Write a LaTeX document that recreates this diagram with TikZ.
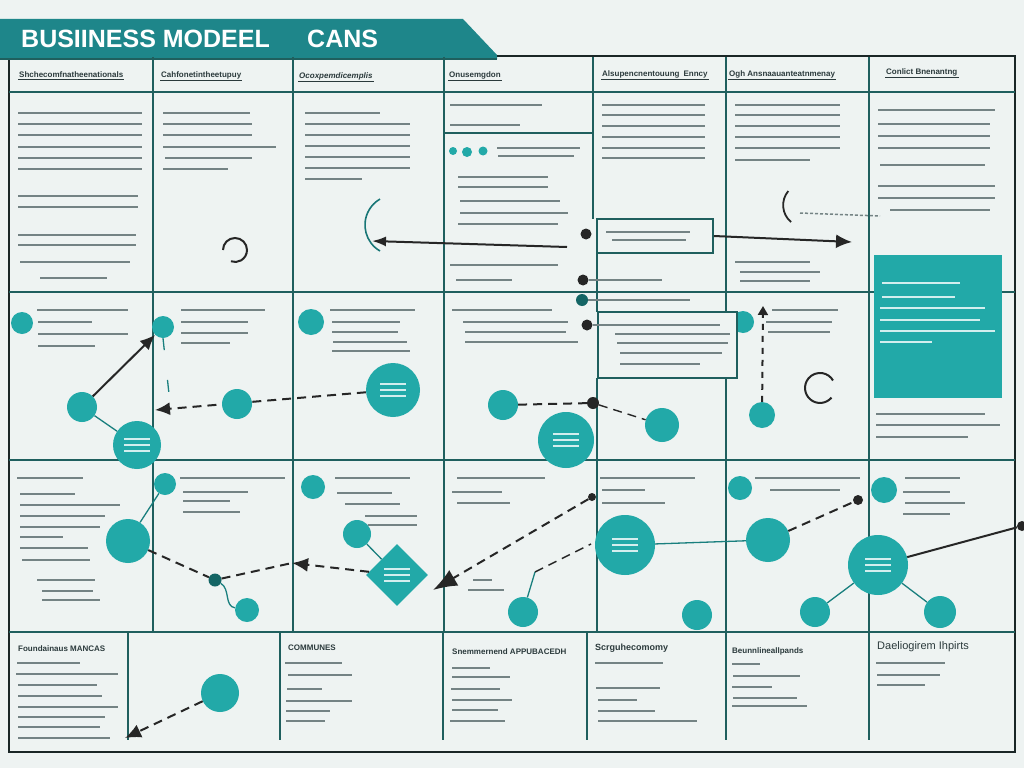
\documentclass[tikz,border=0pt]{standalone}
\usepackage{fontspec}
\setmainfont{Liberation Sans}
\usetikzlibrary{arrows.meta,shapes.geometric}

\definecolor{bgc}{HTML}{EEF3F2}
\definecolor{tealc}{HTML}{22A9A8}
\definecolor{banc}{HTML}{1E868A}
\definecolor{gridc}{HTML}{1F5F5E}
\definecolor{framec}{HTML}{1A2626}
\definecolor{barc}{HTML}{748384}
\definecolor{inkc}{HTML}{2B3A3C}

\tikzset{
  grid/.style={draw=gridc, line width=2pt},
  bar/.style={draw=barc, line width=2.9pt},
  wbar/.style={draw=white!80!tealc, line width=1.6pt},
  hdr/.style={font=\bfseries\fontsize{8}{9}\selectfont, text=inkc, inner sep=1pt, anchor=west},
  bub/.style={circle, fill=tealc, minimum size=#1, inner sep=0},
  blob/.style={circle, fill=black!85, minimum size=#1, inner sep=0},
  cell/.style={draw=gridc, line width=1.6pt, fill=bgc, inner sep=0},
  gem/.style={diamond, fill=tealc, minimum size=62, inner sep=0},
  link/.style={draw=black!85, line width=2pt},
  dlink/.style={link, dash pattern=on 9pt off 6pt},
  tline/.style={draw=tealc!75!black, line width=1.3pt},
}

% filler text lines: x from, x to, list of y
\newcommand\bars[3]{\foreach \yy in {#3} {\draw[bar] (#1,\yy) -- (#2,\yy);}}
\newcommand\wbars[3]{\foreach \yy in {#3} {\draw[wbar] (#1,\yy) -- (#2,\yy);}}

\begin{document}
\begin{tikzpicture}[x=1pt,y=-1pt]
\fill[bgc] (0,0) rectangle (1024,768);
\useasboundingbox (0,0) rectangle (1024,768);

% title banner
\fill[banc] (0,19) -- (463,19) -- (497,55) -- (497,59) -- (0,59) -- cycle;
\node[font=\bfseries\fontsize{25}{25}\selectfont, text=white, anchor=west, inner sep=0] (title) at (21,39) {BUSIINESS MODEEL};
\node[font=\bfseries\fontsize{25}{25}\selectfont, text=white, anchor=west, inner sep=0] (title2) at (307,39) {CANS};

% frame and grid
\draw[framec, line width=2.4pt] (497,56) -- (1015,56) -- (1015,752) -- (9,752) -- (9,59);
\draw[grid] (0,59) -- (497,59);
\foreach \y in {92,292,460,632} {
    \draw[grid] (9,\y) -- (1015,\y);
}
\foreach \x in {153,293,444,726,869} {
    \draw[grid] (\x,57) -- (\x,632);
}
\draw[grid] (593,57) -- (593,219);
\draw[grid] (597,253) -- (597,312);
\draw[grid] (597,378) -- (597,632);
\draw[grid] (444,133) -- (593,133);
\foreach \x in {128,280,443,587,726,869} {
    \draw[grid] (\x,632) -- (\x,740);
}

% headers
\node[hdr] (h1) at (18,75) {Shchecomfnatheenationals};
\node[hdr] (h2) at (160,75) {Cahfonetintheetupuy};
\node[hdr, font=\bfseries\itshape\fontsize{8}{9}\selectfont] (h3) at (298,76) {Ocoxpemdicemplis};
\node[hdr] (h4) at (448,75) {Onusemgdon};
\node[hdr] (h5) at (601,74) {Alsupencnentouung\enspace Enncy};
\node[hdr] (h6) at (728,74) {Ogh Ansnaauanteatnmenay};
\node[hdr] (h7) at (885,72) {Conlict Bnenantng};
\foreach \h in {h1,h2,h3,h4,h5,h6,h7} {
    \draw[inkc, line width=0.8pt] (\h.south west) -- (\h.south east);
}

% row 1 text
\bars{18}{142}{113,124,135,147,158,169}
\bars{18}{138}{196,207}
\bars{18}{136}{235,245}
\bars{20}{130}{262}
\bars{40}{107}{278}
\bars{163}{250}{113}
\bars{163}{252}{124,135}
\bars{163}{276}{147}
\bars{165}{252}{158}
\bars{163}{228}{169}
\bars{305}{380}{113}
\bars{305}{410}{124,135,146,157,168}
\bars{305}{362}{179}
\bars{450}{542}{105}
\bars{450}{520}{125}
\bars{497}{580}{148}
\bars{498}{574}{156}
\bars{458}{548}{177,187}
\bars{460}{560}{201}
\bars{460}{568}{213}
\bars{458}{558}{224}
\bars{450}{558}{265}
\bars{456}{512}{280}
\bars{602}{705}{105,115,126,137,148,158}
\bars{735}{840}{105,115,126,137,148}
\bars{735}{810}{160}
\bars{735}{810}{262}
\bars{740}{820}{272}
\bars{740}{810}{281}
\bars{878}{995}{110}
\bars{878}{990}{124,136,148}
\bars{880}{985}{165}
\bars{878}{995}{186,198}
\bars{890}{990}{210}

% row 1 marks
\fill[tealc] (453,151) circle (4);
\fill[tealc] (467,152) circle (5);
\fill[tealc] (483,151) circle (4.5);
\draw[black!85, line width=2pt] (223,250) arc[start angle=180, end angle=470, radius=12];
\draw[tealc!70!black, line width=1.6pt] (380,251) arc[start angle=120, end angle=240, radius=30];
\draw[black!85, line width=1.8pt] (791,222) arc[start angle=130, end angle=220, radius=22];
\draw[barc, line width=1.5pt, dash pattern=on 3pt off 2pt] (800,213) -- (880,216);
\coordinate (p1) at (567,247);
\coordinate (p2) at (372,241);
\draw[link, -{Latex[length=14pt,width=10pt]}] (p1) -- (p2);

\node[cell, minimum width=116, minimum height=34] (vp) at (655,236) {};
\bars{606}{690}{232}
\bars{612}{686}{240}
\coordinate (p3) at (852,242);
\draw[link, -{Latex[length=16pt,width=14pt]}] (vp.east) -- (p3);

\node[blob=11] (k1) at (586,234) {};
\node[blob=11] (k2) at (583,280) {};
\node[bub=12, fill=tealc!60!black] (k3) at (582,300) {};
\node[blob=11] (k4) at (587,325) {};
\draw[bar] (k2) -- (662,280);
\draw[bar] (k3) -- (690,300);

% teal segment box
\node[fill=tealc, minimum width=128, minimum height=143, inner sep=0] (seg) at (938,326.5) {};
\wbars{882}{960}{283}
\wbars{882}{955}{297}
\wbars{880}{985}{308}
\wbars{880}{980}{320}
\wbars{880}{995}{331}
\wbars{880}{932}{342}
\bars{876}{985}{414}
\bars{876}{1000}{425}
\bars{876}{968}{437}

% row 2
\node[bub=22] (hc) at (743,322) {};
\node[cell, minimum width=139, minimum height=66] (rel) at (667.5,345) {};
\draw[bar] (k4) -- (720,325);
\bars{615}{730}{334}
\bars{617}{728}{343}
\bars{620}{722}{353}
\bars{620}{700}{364}

\node[bub=22] (bA) at (22,323) {};
\node[bub=22] (bB) at (163,327) {};
\node[bub=26] (bC) at (311,322) {};
\bars{37}{128}{310}
\bars{38}{92}{322}
\bars{38}{128}{334}
\bars{38}{95}{346}
\bars{181}{265}{310}
\bars{181}{248}{322,333}
\bars{181}{230}{343}
\bars{330}{415}{310}
\bars{332}{400}{322}
\bars{332}{398}{332}
\bars{333}{407}{342}
\bars{332}{410}{351}
\bars{452}{552}{310}
\bars{463}{568}{322}
\bars{465}{566}{332}
\bars{465}{578}{342}
\bars{772}{838}{310}
\bars{766}{832}{322}
\bars{768}{830}{332}

\node[bub=30] (a1) at (82,407) {};
\node[bub=48] (a2) at (137,445) {};
\node[bub=54] (c1) at (393,390) {};
\coordinate (q0) at (155,410);
\draw[dlink, -{Latex[length=15pt,width=13pt]}] (c1) -- (q0);
\node[bub=30] (b1) at (237,404) {};
\draw[link, -{Latex[length=15pt,width=13pt]}] (a1) -- (bB);
\draw[tline] (a1) -- (a2);
\draw[tline, dash pattern=on 12pt off 30pt] (bB.south) -- ++(7,65);

\node[bub=30] (d1) at (503,405) {};
\node[bub=56] (d2) at (566,440) {};
\node[blob=12] (g1) at (593,403) {};
\node[bub=34] (e1) at (662,425) {};
\draw[dlink] (d1) -- (g1);
\draw[dlink, line width=1.4pt] (g1) -- (e1);

\node[bub=26] (f1) at (762,415) {};
\coordinate (t1) at (763,306);
\draw[link, dash pattern=on 6pt off 6pt, -{Triangle[length=9pt,width=10pt]}] (f1) -- (t1);
\draw[black!85, line width=2pt] (831.5,397.6) arc[start angle=40, end angle=330, radius=15];

% row 3
\bars{17}{83}{478}
\bars{20}{75}{494}
\bars{20}{120}{505}
\bars{20}{105}{516}
\bars{20}{100}{527}
\bars{20}{63}{537}
\bars{20}{88}{548}
\bars{22}{90}{560}
\bars{37}{95}{580}
\bars{42}{93}{591}
\bars{42}{100}{600}
\bars{180}{285}{478}
\bars{183}{248}{492}
\bars{183}{230}{501}
\bars{183}{240}{512}
\bars{335}{410}{478}
\bars{337}{392}{493}
\bars{345}{400}{504}
\bars{365}{417}{516}
\bars{368}{417}{525}
\bars{457}{545}{478}
\bars{452}{502}{492}
\bars{457}{510}{503}
\bars{473}{492}{580}
\bars{468}{504}{590}
\bars{600}{695}{478}
\bars{602}{645}{490}
\bars{602}{665}{503}
\bars{755}{860}{478}
\bars{770}{840}{490}
\bars{905}{960}{478}
\bars{903}{950}{492}
\bars{905}{965}{503}
\bars{903}{950}{514}

\node[bub=22] (r1) at (165,484) {};
\node[bub=44] (r2) at (128,541) {};
\node[bub=13, fill=tealc!60!black] (s1) at (215,580) {};
\node[bub=24] (s2) at (247,610) {};
\node[bub=24] (rC) at (313,487) {};
\node[bub=28] (c3) at (357,534) {};
\node[gem] (dm) at (397,575) {};
\coordinate (q1) at (292,563);
\draw[tline] (r1) -- (r2);
\draw[dlink] (r2) -- (s1);
\draw[dlink] (s1) -- (q1);
\draw[tline] (s1) to[out=-30,in=170] (s2);
\draw[tline] (c3) -- (dm);
\draw[dlink, -{Latex[length=16pt,width=14pt]}] (dm) -- (q1);

\node[blob=8] (h1) at (592,497) {};
\coordinate (q2) at (433,590);
\draw[dlink, -{Latex[length=24pt,width=18pt]}] (h1) -- (q2);

\node[bub=30] (d4) at (523,612) {};
\coordinate (k5) at (535,572);
\coordinate (k6) at (591,544);
\draw[tline] (d4) -- (k5);
\draw[dlink, line width=1.5pt] (k5) -- (k6);

\node[bub=60] (e3) at (625,545) {};
\node[bub=30] (e4) at (697,615) {};
\node[bub=24] (f2) at (740,488) {};
\node[bub=44] (f3) at (768,540) {};
\node[blob=10] (h2) at (858,500) {};
\node[bub=30] (f4) at (815,612) {};
\node[bub=26] (gC) at (884,490) {};
\node[bub=60] (g3) at (878,565) {};
\node[bub=32] (g4) at (940,612) {};
\node[blob=10] (h3) at (1022,526) {};
\draw[tline] (e3) -- (f3);
\draw[dlink] (f3) -- (h2);
\draw[tline] (g3) -- (f4);
\draw[tline] (g3) -- (g4);
\draw[link] (g3) -- (h3);

% white text inside larger shapes
\foreach \n in {a2,c1,d2,e3,g3,dm} {
    \foreach \o in {-6,0,6} {
        \draw[wbar, line width=1.2pt] ([xshift=-13pt,yshift=\o pt]\n.center) -- ([xshift=13pt,yshift=\o pt]\n.center);
    }
}

% bottom section
\node[hdr] (b1h) at (17,649) {Foundainaus MANCAS};
\node[hdr] (b3h) at (287,648) {COMMUNES};
\node[hdr] (b4h) at (451,652) {Snemmernend APPUBACEDH};
\node[hdr, font=\bfseries\fontsize{9}{10}\selectfont] (b5h) at (594,648) {Scrguhecomomy};
\node[hdr] (b6h) at (731,651) {Beunnlineallpands};
\node[hdr, font=\fontsize{11}{12}\selectfont] (b7h) at (876,647) {Daeliogirem Ihpirts};
\bars{17}{80}{663}
\bars{16}{118}{674}
\bars{18}{97}{685}
\bars{18}{102}{696}
\bars{18}{118}{707}
\bars{18}{105}{717}
\bars{18}{100}{727}
\bars{18}{110}{738}
\bars{285}{342}{663}
\bars{288}{352}{675}
\bars{287}{322}{689}
\bars{286}{352}{701}
\bars{286}{330}{711}
\bars{286}{325}{721}
\bars{452}{490}{668}
\bars{452}{510}{677}
\bars{451}{500}{689}
\bars{452}{512}{700}
\bars{452}{498}{710}
\bars{450}{505}{721}
\bars{595}{663}{663}
\bars{596}{660}{688}
\bars{598}{637}{700}
\bars{598}{655}{711}
\bars{598}{697}{721}
\bars{732}{760}{664}
\bars{733}{800}{676}
\bars{732}{772}{687}
\bars{733}{797}{698}
\bars{732}{807}{706}
\bars{876}{945}{663}
\bars{877}{940}{675}
\bars{877}{925}{685}

\node[bub=38] (m1) at (220,693) {};
\coordinate (q3) at (125,738);
\draw[dlink, -{Latex[length=16pt,width=14pt]}] (m1) -- (q3);
\end{tikzpicture}
\end{document}
